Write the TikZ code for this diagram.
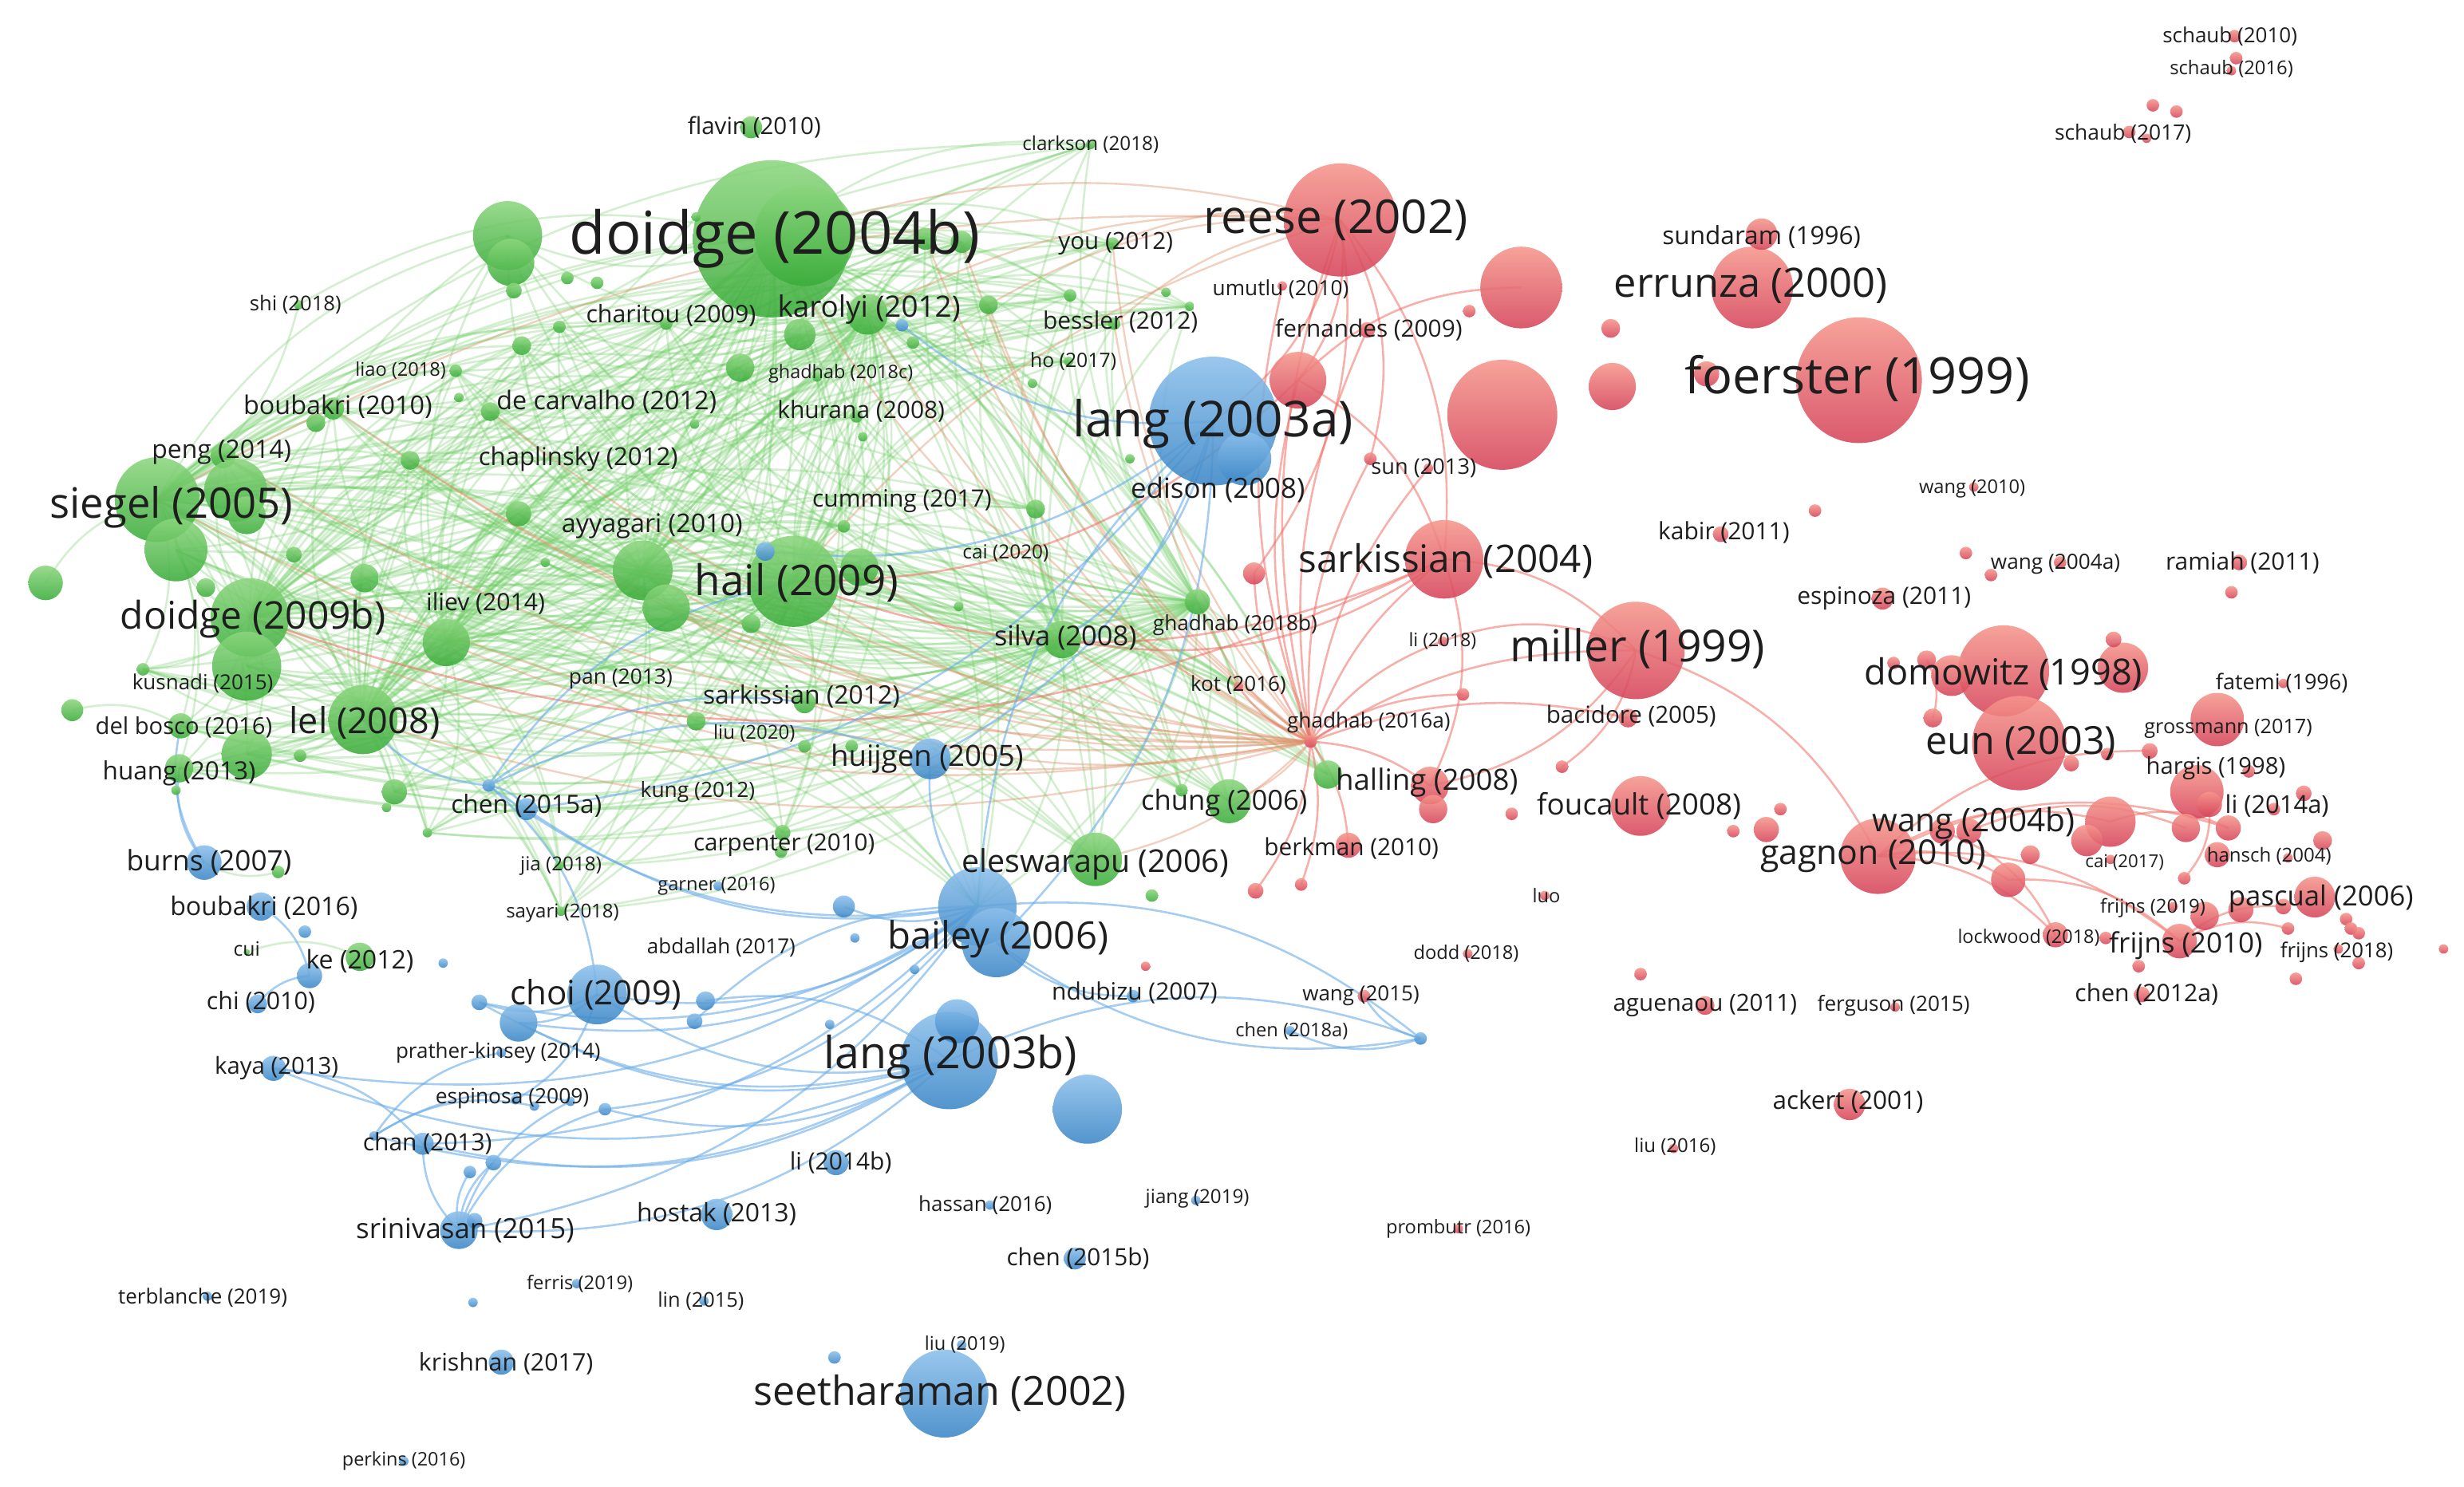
\documentclass[tikz,border=0pt]{standalone}
\usepackage{fontspec}
\setmainfont{Open Sans}
\pgfdeclarelayer{bg}
\pgfdeclarelayer{fg}
\pgfsetlayers{bg,main,fg}
\definecolor{gtop}{RGB}{140,214,126}
\definecolor{gbot}{RGB}{58,172,58}
\definecolor{btop}{RGB}{140,192,236}
\definecolor{bbot}{RGB}{58,134,198}
\definecolor{rtop}{RGB}{246,150,140}
\definecolor{rbot}{RGB}{214,68,90}
\definecolor{gedge}{RGB}{110,205,100}
\definecolor{redge}{RGB}{240,110,100}
\definecolor{oedge}{RGB}{222,145,105}
\definecolor{bedge}{RGB}{105,172,232}
\definecolor{labc}{RGB}{30,30,30}
\tikzset{
  gball/.style={top color=gtop, bottom color=gbot, fill opacity=.88},
  bball/.style={top color=btop, bottom color=bbot, fill opacity=.88},
  rball/.style={top color=rtop, bottom color=rbot, fill opacity=.88},
  gline/.style={draw=gedge, line width=1.3pt, opacity=.3},
  rline/.style={draw=redge, line width=1.3pt, opacity=.55},
  oline/.style={draw=oedge, line width=1.2pt, opacity=.42},
  bline/.style={draw=bedge, line width=1.3pt, opacity=.6},
  lb/.style={inner sep=0pt, text=labc, font=\fontsize{#1}{#1}\selectfont}
}
\begin{document}
\begin{tikzpicture}[x=1pt,y=-1pt]
\begin{pgfonlayer}{bg}
\fill[white] (0,0) rectangle (1568,946);
\end{pgfonlayer}
\useasboundingbox (0,0) rectangle (1568,946);
% green nodes
\foreach \n/\x/\y/\rr in {gA/491/152/50, gA2/512/150/32, gB/323/150/22, gB2/325/167/15, gB3/327/185/5, flav/478/81/7, clark/694/92/3, you/708/155/4, shi/190/194/3, char/424/206/4, kar/552/200/13, g1/509/213/10, g2/471/234/9, g3/629/194/6, g4/681/188/4, g5/742/186/3, g6/757/195/3, g7/589/152/7, g8/612/154/7, bess/709/206/4, ho/680/230/3, gc18/520/240/3, khur/545/265/4, g39/549/278/3, g40/581/218/4, g41/657/244/3, g42/719/292/3, g43/442/270/3, g44/443/138/3, liao/290/236/4, g9/292/253/3, bou10/212/260/7, g10/201/269/6, g11/356/208/4, g12/332/220/6, g13/361/177/4, g14/380/180/4, decar/312/262/6, chap/261/293/6, peng/142/290/8, sieg/100/318/27, sieg2/150/312/20, sieg3/112/350/20, sieg4/157/328/12, g15/29/371/11, g16/131/374/6, g17/187/353/5, doi9/159/393/25, doi9b/157/424/22, g18/232/368/9, ili/284/409/15, g19/347/358/3, ayy/330/327/8, g20/409/363/19, g21/424/387/15, hail/505/370/29, g22/547/361/12, g23/478/397/6, cumm/659/324/6, g24/537/335/4, cai20/610/386/3, silva/676/407/12, gh18b/762/383/8, sark12/512/447/7, liu20/443/459/6, g25/512/475/4, g26/542/475/4, kus/91/426/4, delb/115/462/8, g27/46/452/7, lel/231/458/22, g28/157/480/16, huang/114/489/9, g29/112/503/3, g30/191/481/4, g31/251/504/8, g32/246/514/3, g33/272/530/3, g34/177/555/4, cui/157/606/2, ke/229/609/9, jia/356/551/3, say/357/580/3, carp/498/530/5, g35/497/542/4, elesw/697/547/17, chung/782/510/14, g37/752/503/4, g38/733/570/4, hall/845/493/9}
  {\coordinate (\n) at (\x,\y); \shade[gball] (\n) circle (\rr pt);}
% blue nodes
\foreach \n/\x/\y/\rr in {l3a/772/268/41, l3a2/792/292/17, bA/487/351/6, bk/574/207/4, c15a/335/515/7, bc1/311/500/4, burns/130/549/11, bou16/166/577/9, bb1/194/593/4, bb2/197/621/8, bb3/282/613/3, garn/457/564/3, huij/592/483/13, bail/622/577/25, bail2/634/600/22, bb4/537/577/7, bb5/544/597/3, bb6/582/617/3, l3b/604/675/31, l3b2/609/650/14, bb7/692/706/22, bb8/449/637/6, bb9/442/650/5, bb10/528/652/3, choi/380/633/19, bb11/330/651/12, bb12/305/638/5, chi/164/639/6, prk/319/670/3, kaya/174/680/8, esp1/328/700/3, esp2/340/704/3, esp3/363/701/3, esp4/385/706/4, chan/269/728/7, bb13/238/723/3, bb14/299/746/4, bb15/314/740/5, srin/292/783/12, srin2/302/777/5, terb/132/825/3, bb16/301/829/3, ferr/367/817/3, krish/319/867/8, perk/257/930/3, li14b/532/740/8, host/456/773/10, lin/448/828/3, hass/630/767/3, jiang/761/764/3, c15b/684/801/7, liu19/612/856/3, bb17/531/864/4, seet/601/887/28, ndub/721/634/4, c18a/821/656/3, bb18/904/661/4}
  {\coordinate (\n) at (\x,\y); \shade[bball] (\n) circle (\rr pt);}
% red nodes
\foreach \n/\x/\y/\rr in {reese/853/140/36, umut/816/182/3, r1/968/183/26, r2/935/198/4, r3/1025/209/6, r4/826/242/18, r5/956/264/35, r6/1026/246/15, err/1115/183/26, sund/1121/149/10, foer/1183/242/40, r7/1086/238/8, sun/872/292/4, r8/909/298/3, fern/870/210/5, r9/798/365/7, sark04/919/356/25, li18/918/408/3, gh16a/834/472/4, kot/788/437/3, miller/1041/414/31, bac/1036/457/6, fouc/1044/513/19, r11/1124/528/8, r12/1103/529/4, r13/1133/515/4, r14/962/518/4, r15/994/488/4, r16/931/442/4, hal1/910/500/12, hal2/912/515/9, berk/858/538/8, r17/799/567/5, r18/828/563/4, r19/1155/325/4, kabir/1095/340/5, r20/1044/620/4, dodd/934/607/3, luo/983/570/3, wang15/868/634/4, r21/729/615/3, agu/1085/640/6, ferg/1206/641/3, ackert/1177/703/10, liu16/1065/731/3, promb/928/782/3, sch10/1422/23/4, sch10b/1423/37/4, sch16/1420/45/3, s1/1370/67/4, s2/1385/71/4, sch17/1355/84/4, s3/1366/88/3, wang10/1256/310/3, w4a1/1251/352/4, w4a2/1267/366/4, w4a/1311/358/4, ram/1425/358/5, r22/1420/377/4, espz/1198/381/7, dom/1275/427/29, dom2/1242/430/13, dom3/1351/425/16, r23/1205/422/4, r24/1226/420/6, r25/1345/407/5, r26/1230/457/6, eun/1285/473/30, r27/1318/486/5, r28/1341/480/4, fat/1453/435/3, gross/1411/458/17, harg/1398/504/17, harg2/1406/512/8, r29/1368/478/5, r30/1431/491/4, li14a/1466/505/5, r31/1447/515/4, r32/1418/527/8, w4b/1343/523/16, w4b2/1328/535/10, r33/1391/527/9, r34/1236/529/8, r35/1253/529/8, r36/1292/544/6, gag/1195/545/24, r37/1278/560/11, cai17/1343/547/3, hans1/1411/544/8, hans2/1456/546/3, hans3/1478/535/6, r38/1390/559/4, pasc/1473/571/13, fr19/1383/577/3, r39/1403/583/9, r40/1426/579/8, r41/1453/577/5, lock/1308/595/8, r42/1340/597/4, fr10/1387/599/11, r43/1493/585/4, r44/1496/591/4, r45/1501/594/4, r46/1501/613/4, fr18/1488/604/3, r47/1555/604/3, r48/1456/591/4, r49/1461/623/4, r50/1361/615/4, c12a/1363/633/5}
  {\coordinate (\n) at (\x,\y); \shade[rball] (\n) circle (\rr pt);}
% edges
\begin{pgfonlayer}{bg}
\foreach \a in {gA,kar,hail,sieg,doi9,lel,ili,silva,gh18b,g20}
  {\foreach \b in {gB,g1,g2,g3,g7,g8,bess,you,clark,char,liao,bou10,decar,chap,peng,sieg3,doi9b,g18,ayy,g21,g22,cumm,sark12,liu20,delb,g28,huang,g31,carp,elesw,chung,kot,kus,g12,g11,khur,ho,g4,g6,g33,jia,say,hall,g37,g24,g19,bail}
    {\draw[gline] (\a) to[bend left=22] (\b);}}
\foreach \a/\b in {gA/kar, gA/hail, gA/sieg, gA/doi9, gA/lel, gA/ili, gA/silva, gA/gh18b, gA/g20, kar/hail, kar/sieg, kar/doi9, kar/lel, kar/silva, kar/gh18b, hail/sieg, hail/doi9, hail/lel, hail/ili, hail/silva, hail/gh18b, sieg/doi9, sieg/lel, sieg/ili, sieg/g20, doi9/lel, doi9/ili, doi9/silva, lel/ili, lel/silva, ili/g20, silva/gh18b, g20/silva, g20/gh18b, g15/sieg, g27/delb, cui/ke, g34/burns, shi/gA, shi/sieg, g44/sieg}
  {\draw[gline] (\a) to[bend left=22] (\b);}
\foreach \b in {gA,kar,hail,sieg,doi9,lel,silva,g20,ili,g21,chap,decar,bou10,peng,cumm,gh18b,g22,g3,bess,you,elesw,chung,sark12,g7,g8}
  {\draw[oline] (gh16a) to[bend left=16] (\b);}
\foreach \b in {reese,r4,sark04,miller,hal1,berk,r17,r18,umut,fern,sun,r8,li18,kot,r9,bac,r16}
  {\draw[rline] (gh16a) to[bend left=16] (\b);}
\foreach \b in {gA,kar,you,g3,bess,sieg,hail}
  {\draw[oline] (reese) to[bend right=16] (\b);}
\foreach \a/\b in {reese/l3a, reese/r4, reese/sark04, reese/r9, reese/sun, r4/r1, r4/sark04, r4/hail, sark04/miller, sark04/hal1, sark04/silva, sark04/doi9, sark04/hail, miller/gag, miller/hal1, miller/r15, li18/miller, gag/w4b, gag/r29, gag/r32, gag/lock, gag/fr10, gag/r37, r34/lock, r35/r33, r37/fr10, fr10/r48, fr10/r41, r24/r26, harg2/r38, w4b/r32}
  {\draw[rline] (\a) to[bend left=22] (\b);}
\foreach \a/\b in {bail/choi, bail/chan, bail/srin, bail/bb4, bail/huij, bail/l3a, bail/c15a, bail/bb18, bail/bb11, bail/kaya, bail/esp4, bail/bb12, bail/bc1, l3b/choi, l3b/chan, l3b/bb11, l3b/esp4, l3b/kaya, l3b/bb18, l3b/bb12, l3b/bb13, l3b/srin, bb18/wang15, bb18/c18a, bb18/bail2, bc1/c15a, bc1/hail, bc1/lel, bc1/huij, bc1/sark12, bc1/choi, burns/delb, burns/huang, l3a/bk, l3a/huij, l3a/bail2, l3a/c15a, l3a/bA, l3a/silva, srin/esp4, srin/bb14, srin/chan, srin/bb15, srin/esp3, bb13/prk, bb13/esp3, bb13/esp2, choi/bb12, choi/bb11, choi/esp1, bou16/bb2, ndub/bail2, bb8/l3b, bb9/bail, chi/bb2, kaya/chan}
  {\draw[bline] (\a) to[bend left=22] (\b);}
\end{pgfonlayer}
% labels
\begin{pgfonlayer}{fg}
\foreach \tx/\x/\y/\fs [count=\i] in {
{doidge (2004b)}/493/152/37.6, {flavin (2010)}/480/81/15, {clarkson (2018)}/694/92/12.3, {you (2012)}/710/155/15, {reese (2002)}/850/140/29.6,
{sundaram (1996)}/1121/151/16, {errunza (2000)}/1114/182/25.7, {foerster (1999)}/1182/241/32, {schaub (2010)}/1419/23/13.2, {schaub (2016)}/1420/44/12.1,
{schaub (2017)}/1351/85/13.4, {shi (2018)}/188/194/13, {charitou (2009)}/427/201/15.4, {karolyi (2012)}/553/197/18.7, {umutlu (2010)}/815/184/13.3,
{bessler (2012)}/713/205/15.2, {fernandes (2009)}/871/210/15.1, {liao (2018)}/255/236/12, {ghadhab (2018c)}/535/238/11.9, {ho (2017)}/683/230/12.6,
{boubakri (2010)}/215/259/16.4, {de carvalho (2012)}/386/256/16.4, {khurana (2008)}/548/262/15.2, {lang (2003a)}/772/270/31.5, {sun (2013)}/906/298/13.8,
{peng (2014)}/141/288/16.2, {chaplinsky (2012)}/368/292/15.8, {wang (2010)}/1255/311/12, {edison (2008)}/775/312/17.7, {cumming (2017)}/574/319/15.2,
{siegel (2005)}/109/323/26.7, {ayyagari (2010)}/415/335/16.4, {kabir (2011)}/1097/339/15.2, {cai (2020)}/640/352/12.4, {sarkissian (2004)}/920/357/24.2,
{wang (2004a)}/1308/359/13.3, {ramiah (2011)}/1427/358/15.2, {hail (2009)}/507/371/26.9, {iliev (2014)}/309/384/15.3, {espinoza (2011)}/1199/381/15.2,
{doidge (2009b)}/161/394/24.3, {silva (2008)}/678/406/17.5, {ghadhab (2018b)}/786/398/13.3, {li (2018)}/918/408/11.8, {miller (1999)}/1042/413/28,
{pan (2013)}/395/432/13.4, {kusnadi (2015)}/129/435/13.2, {fatemi (1996)}/1452/435/13.7, {kot (2016)}/788/436/13.2, {domowitz (1998)}/1275/429/22.9,
{sarkissian (2012)}/510/443/16.2, {bacidore (2005)}/1038/456/15, {ghadhab (2016a)}/871/460/13.3, {lel (2008)}/232/460/22.8, {del bosco (2016)}/117/463/14.8,
{grossmann (2017)}/1418/464/12.8, {liu (2020)}/480/467/12.2, {eun (2003)}/1286/473/24.6, {hargis (1998)}/1410/489/14.8, {huang (2013)}/114/492/16,
{halling (2008)}/908/498/18.6, {huijgen (2005)}/590/483/18.6, {kung (2012)}/444/504/13.4, {chen (2015a)}/335/513/16.1, {foucault (2008)}/1043/513/18.7,
{chung (2006)}/779/511/17.6, {li (2014a)}/1449/513/15.7, {wang (2004b)}/1256/524/20.6, {carpenter (2010)}/499/538/15, {berkman (2010)}/860/540/15.1,
{hansch (2004)}/1444/545/12.2, {gagnon (2010)}/1192/545/21.7, {eleswarapu (2006)}/697/550/20, {burns (2007)}/133/549/17.9, {cai (2017)}/1352/549/11.3,
{jia (2018)}/357/551/12.3, {garner (2016)}/456/564/12, {luo}/984/570/12, {pascual (2006)}/1477/572/17.6, {boubakri (2016)}/168/578/16.3,
{frijns (2019)}/1370/578/12.2, {sayari (2018)}/358/581/12.2, {bailey (2006)}/635/598/24, {lockwood (2018)}/1291/597/11.9, {frijns (2010)}/1391/602/17.8,
{abdallah (2017)}/459/603/13.2, {cui}/157/604/12.6, {frijns (2018)}/1487/606/13.1, {dodd (2018)}/933/607/12, {ke (2012)}/229/612/16.3,
{ndubizu (2007)}/722/632/15.2, {choi (2009)}/379/633/21.4, {chen (2012a)}/1366/633/15.3, {wang (2015)}/866/634/13.2, {chi (2010)}/166/638/15.4,
{aguenaou (2011)}/1085/640/15, {ferguson (2015)}/1205/640/13.3, {chen (2018a)}/822/656/12, {prather-kinsey (2014)}/317/670/13.2, {lang (2003b)}/605/673/28.2,
{kaya (2013)}/176/680/14.9, {espinosa (2009)}/326/699/13.4, {ackert (2001)}/1176/701/16, {chan (2013)}/272/728/15.2, {li (2014b)}/535/740/15.2,
{liu (2016)}/1066/730/12.2, {jiang (2019)}/762/763/12.3, {hassan (2016)}/627/767/13.2, {hostak (2013)}/456/773/16.2, {prombutr (2016)}/928/782/12,
{srinivasan (2015)}/296/783/17.7, {chen (2015b)}/686/801/15.1, {ferris (2019)}/369/817/12.1, {terblanche (2019)}/129/826/13.2, {lin (2015)}/446/828/12.9,
{liu (2019)}/614/856/12, {krishnan (2017)}/322/868/15.4, {seetharaman (2002)}/598/887/25.5, {perkins (2016)}/257/930/11.9}
  {\node[lb=\fs] (L\i) at (\x,\y) {\tx};}
\end{pgfonlayer}
\end{tikzpicture}
\end{document}
